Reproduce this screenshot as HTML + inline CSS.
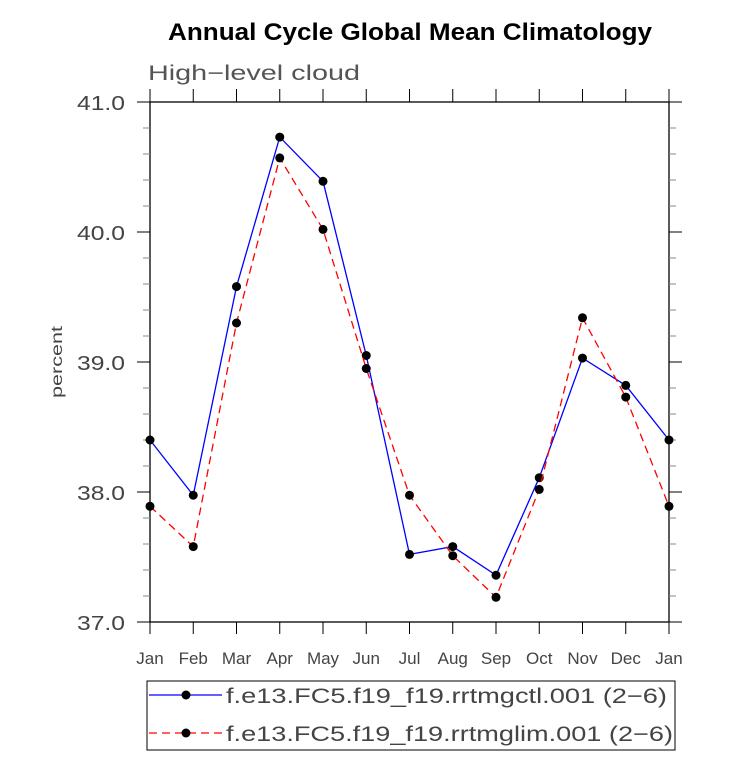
<!DOCTYPE html>
<html><head><meta charset="utf-8"><style>
body{margin:0;background:#fff;width:733px;height:757px;overflow:hidden}
svg text{font-family:"Liberation Sans",sans-serif}
</style></head><body>
<svg id="chart" width="733" height="757" xmlns="http://www.w3.org/2000/svg">
<text x="410" y="40" text-anchor="middle" font-size="24" font-weight="bold" textLength="484" lengthAdjust="spacingAndGlyphs">Annual Cycle Global Mean Climatology</text>
<text x="148" y="80" font-size="21" fill="#555" textLength="212" lengthAdjust="spacingAndGlyphs">High−level cloud</text>
<text transform="translate(62,362) rotate(-90)" text-anchor="middle" font-size="16" fill="#444" textLength="72" lengthAdjust="spacingAndGlyphs">percent</text>
<g id="axes"></g>
<g id="series"></g>
<g>
<rect x="147" y="681" width="528" height="69" fill="none" stroke="#000" stroke-width="1"/>
<line x1="149" y1="695" x2="222" y2="695" stroke="#0000ff" stroke-width="1.3"/>
<circle cx="186" cy="695" r="4.5" fill="#000"/>
<text x="226" y="703" font-size="21" fill="#444" textLength="441" lengthAdjust="spacingAndGlyphs">f.e13.FC5.f19_f19.rrtmgctl.001 (2−6)</text>
<line x1="149" y1="733" x2="222" y2="733" stroke="#ff0000" stroke-width="1.3" stroke-dasharray="8,5"/>
<circle cx="186" cy="733" r="4.5" fill="#000"/>
<text x="226" y="741" font-size="21" fill="#444" textLength="447" lengthAdjust="spacingAndGlyphs">f.e13.FC5.f19_f19.rrtmglim.001 (2−6)</text>
</g>
</svg>
<script>
const months=["Jan","Feb","Mar","Apr","May","Jun","Jul","Aug","Sep","Oct","Nov","Dec","Jan"];
const ctl=[38.40,37.975,39.58,40.73,40.39,39.05,37.52,37.58,37.36,38.11,39.03,38.82,38.40];
const lim=[37.89,37.58,39.30,40.57,40.02,38.95,37.975,37.51,37.19,38.02,39.34,38.73,37.89];
const yTicks=[37.0,38.0,39.0,40.0,41.0];
const NS="http://www.w3.org/2000/svg";
const X0=150,X1=669,Y0=622,Y1=102,YMIN=37,YMAX=41;
const xs=i=>X0+(X1-X0)*i/(months.length-1);
const ys=v=>Y0-(v-YMIN)/(YMAX-YMIN)*(Y0-Y1);
function mk(p,t,a){const e=document.createElementNS(NS,t);for(const k in a)e.setAttribute(k,a[k]);p.appendChild(e);return e;}
const ax=document.getElementById('axes');
const frame=mk(ax,'rect',{x:X0,y:Y1,width:X1-X0,height:Y0-Y1,fill:'none',stroke:'#000','stroke-width':1.3});


for(let v=YMIN;v<=YMAX+1e-9;v+=0.2){
  const y=ys(v);const major=Math.abs(v-Math.round(v))<1e-6;
  const L=major?13:7;
  mk(ax,'line',{x1:X0-L,y1:y,x2:X0,y2:y,stroke:major?'#000':'#888','stroke-width':1});
  mk(ax,'line',{x1:X1,y1:y,x2:X1+L,y2:y,stroke:major?'#000':'#888','stroke-width':1});
}
yTicks.forEach(v=>{
  const t=mk(ax,'text',{x:X0-25,y:ys(v)+8,'text-anchor':'end','font-size':20,fill:'#444',textLength:48,lengthAdjust:'spacingAndGlyphs'});
  t.textContent=v.toFixed(1);
  
  
});
months.forEach((m,i)=>{
  const x=xs(i);
  mk(ax,'line',{x1:x,y1:Y0,x2:x,y2:Y0+12,stroke:'#000','stroke-width':1});
  mk(ax,'line',{x1:x,y1:Y1,x2:x,y2:Y1-13,stroke:'#000','stroke-width':1});
  const t=mk(ax,'text',{x:x,y:Y0+42,'text-anchor':'middle','font-size':17,fill:'#444'});
  t.textContent=m;
  
  
});
const sg=document.getElementById('series');
function draw(vals,color,dash,name){
  const pl=mk(sg,'polyline',{points:vals.map((v,i)=>xs(i)+','+ys(v)).join(' '),fill:'none',stroke:color,'stroke-width':1.3});
  if(dash)pl.setAttribute('stroke-dasharray',dash);
  
  
  vals.forEach((v,i)=>{
    const c=mk(sg,'circle',{cx:xs(i),cy:ys(v),r:4.5,fill:'#000'});
    
    
  });
}
draw(ctl,'#0000ff',null,'ctl');
draw(lim,'#ff0000','8,5','lim');
</script>
</body></html>
